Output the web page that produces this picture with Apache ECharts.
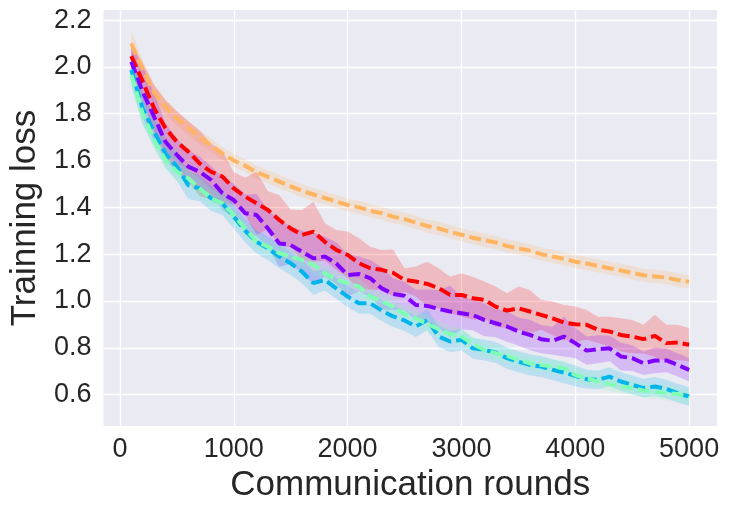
<!DOCTYPE html>
<html><head><meta charset="utf-8">
<script src="https://cdn.jsdelivr.net/npm/echarts@6/dist/echarts.min.js"></script>
<style>html,body{margin:0;padding:0;background:#fff}#c{width:729px;height:510px}</style>
</head><body><div id="c"></div>
<script>
const rounds = [100,200,300,400,500,600,700,800,900,1000,1100,1200,1300,1400,1500,1600,1700,1800,1900,2000,2100,2200,2300,2400,2500,2600,2700,2800,2900,3000,3100,3200,3300,3400,3500,3600,3700,3800,3900,4000,4100,4200,4300,4400,4500,4600,4700,4800,4900,5000];
const xTicks = [0,1000,2000,3000,4000,5000];
const yTicks = [0.6,0.8,1.0,1.2,1.4,1.6,1.8,2.0,2.2];

const orangeMean = [2.10,1.99,1.89,1.83,1.78,1.74,1.70,1.665,1.63,1.60,1.578,1.55,1.53,1.51,1.49,1.47,1.455,1.44,1.425,1.41,1.40,1.385,1.375,1.36,1.35,1.335,1.32,1.31,1.295,1.283,1.27,1.26,1.25,1.235,1.225,1.215,1.20,1.19,1.18,1.168,1.16,1.15,1.14,1.13,1.12,1.11,1.105,1.10,1.09,1.082];
const orangeStd = [0.055,0.04,0.035,0.032,0.03,0.03,0.03,0.028,0.028,0.028,0.028,0.028,0.028,0.028,0.028,0.028,0.028,0.028,0.028,0.028,0.028,0.028,0.028,0.028,0.028,0.028,0.028,0.028,0.028,0.028,0.028,0.028,0.028,0.028,0.028,0.028,0.028,0.028,0.028,0.028,0.028,0.028,0.028,0.028,0.028,0.028,0.028,0.028,0.028,0.028];

const redMean = [2.046,1.937,1.823,1.738,1.68,1.638,1.588,1.552,1.531,1.481,1.446,1.417,1.389,1.346,1.31,1.282,1.296,1.253,1.218,1.197,1.161,1.14,1.133,1.12,1.09,1.083,1.073,1.055,1.026,1.026,1.012,1.005,0.976,0.959,0.969,0.955,0.941,0.926,0.908,0.901,0.898,0.877,0.87,0.855,0.848,0.837,0.851,0.82,0.823,0.813];
const redStd = [0.06,0.08,0.10,0.12,0.13,0.13,0.14,0.12,0.11,0.07,0.08,0.135,0.08,0.107,0.08,0.107,0.128,0.08,0.085,0.10,0.107,0.092,0.085,0.10,0.05,0.064,0.095,0.085,0.078,0.092,0.092,0.078,0.086,0.074,0.093,0.092,0.064,0.072,0.075,0.075,0.064,0.056,0.063,0.071,0.071,0.061,0.09,0.078,0.075,0.071];

const purpleMean = [2.022,1.894,1.787,1.68,1.624,1.574,1.552,1.517,1.46,1.431,1.375,1.367,1.31,1.246,1.239,1.21,1.182,1.19,1.161,1.111,1.115,1.097,1.054,1.03,1.022,0.983,0.979,0.966,0.955,0.948,0.94,0.919,0.905,0.891,0.87,0.855,0.837,0.83,0.848,0.82,0.788,0.794,0.798,0.763,0.756,0.734,0.746,0.746,0.727,0.706];
const purpleStd = [0.07,0.11,0.10,0.08,0.07,0.07,0.065,0.06,0.07,0.07,0.08,0.09,0.08,0.10,0.08,0.09,0.11,0.085,0.09,0.09,0.075,0.078,0.09,0.067,0.06,0.065,0.07,0.08,0.11,0.07,0.065,0.07,0.06,0.065,0.06,0.065,0.06,0.06,0.085,0.065,0.06,0.06,0.055,0.06,0.055,0.05,0.055,0.05,0.05,0.05];

const cyanMean = [1.987,1.823,1.723,1.63,1.574,1.495,1.481,1.439,1.417,1.36,1.30,1.253,1.225,1.19,1.161,1.125,1.076,1.09,1.054,1.019,0.99,0.99,0.959,0.934,0.917,0.891,0.919,0.848,0.827,0.834,0.798,0.791,0.78,0.756,0.741,0.727,0.72,0.706,0.694,0.68,0.666,0.663,0.677,0.656,0.642,0.628,0.635,0.624,0.606,0.592];
const cyanStd = [0.07,0.07,0.065,0.06,0.06,0.06,0.055,0.055,0.05,0.05,0.05,0.05,0.05,0.05,0.05,0.05,0.05,0.045,0.045,0.045,0.045,0.045,0.045,0.045,0.045,0.045,0.045,0.045,0.045,0.045,0.045,0.045,0.045,0.045,0.045,0.045,0.045,0.045,0.045,0.045,0.04,0.04,0.04,0.04,0.04,0.04,0.04,0.04,0.04,0.04];

const greenMean = [1.965,1.80,1.688,1.602,1.552,1.524,1.481,1.439,1.417,1.367,1.31,1.253,1.232,1.204,1.19,1.175,1.154,1.118,1.093,1.076,1.061,1.019,1.0,0.975,0.945,0.925,0.902,0.879,0.859,0.848,0.817,0.791,0.777,0.766,0.749,0.734,0.727,0.72,0.713,0.684,0.67,0.656,0.645,0.635,0.628,0.618,0.612,0.606,0.603,0.585];
const greenStd = [0.045,0.045,0.04,0.04,0.04,0.04,0.04,0.04,0.035,0.035,0.035,0.035,0.035,0.035,0.035,0.035,0.035,0.035,0.035,0.035,0.035,0.035,0.035,0.035,0.035,0.035,0.035,0.035,0.035,0.035,0.03,0.03,0.03,0.03,0.03,0.03,0.03,0.03,0.03,0.03,0.03,0.03,0.03,0.03,0.03,0.03,0.03,0.03,0.03,0.03];

const seriesDefs = [
  {name:'orange', color:'#ffb462', mean:orangeMean, std:orangeStd},
  {name:'red', color:'#ff0000', mean:redMean, std:redStd},
  {name:'purple', color:'#8000ff', mean:purpleMean, std:purpleStd},
  {name:'cyan', color:'#00b5eb', mean:cyanMean, std:cyanStd},
  {name:'green', color:'#80ffb4', mean:greenMean, std:greenStd}
];

const series = [];
seriesDefs.forEach(function(s){
  const band = rounds.map(function(r,k){ return [r, s.mean[k]-s.std[k], s.mean[k]+s.std[k]]; });
  series.push({
    type:'custom', silent:true, z:1, clip:true,
    encode:{x:0, y:[1,2]},
    data: band,
    renderItem: function(params, api){
      if (params.dataIndex !== 0) return null;
      const pts = [];
      for (let k = 0; k < band.length; k++) pts.push(api.coord([band[k][0], band[k][2]]));
      for (let k = band.length - 1; k >= 0; k--) pts.push(api.coord([band[k][0], band[k][1]]));
      return {type:'polygon', shape:{points:pts}, style:{fill:s.color, opacity:0.2}};
    }
  });
});
seriesDefs.forEach(function(s){
  series.push({
    type:'line', name:s.name, symbol:'none', z:3,
    lineStyle:{color:s.color, width:4, type:[12,5], cap:'butt'},
    data: rounds.map(function(r,k){ return [r, s.mean[k]]; })
  });
});

const txt = '#262626';
const chart = echarts.init(document.getElementById('c'));
chart.setOption({
  animation:false,
  backgroundColor:'#ffffff',
  grid:{left:97, right:12, top:10, bottom:84, show:true, backgroundColor:'#eaeaf2', borderWidth:0},
  xAxis:{
    type:'value', min:-145, max:5245,
    name:'Communication rounds', nameLocation:'middle', nameGap:36,
    nameTextStyle:{fontSize:35, color:txt, fontFamily:'Liberation Sans'},
    axisLine:{show:false},
    axisTick:{show:false, customValues:xTicks},
    axisLabel:{customValues:xTicks, fontSize:27, color:txt, fontFamily:'Liberation Sans', margin:10,
      formatter:function(v){ return String(v); }},
    splitLine:{show:true, lineStyle:{color:'#ffffff', width:1.3}}
  },
  yAxis:{
    type:'value', min:0.466, max:2.243,
    name:'Trainning loss', nameLocation:'middle', nameGap:57, nameRotate:90,
    nameTextStyle:{fontSize:35, color:txt, fontFamily:'Liberation Sans'},
    axisLine:{show:false},
    axisTick:{show:false, customValues:yTicks},
    axisLabel:{customValues:yTicks, fontSize:27, color:txt, fontFamily:'Liberation Sans', margin:12,
      formatter:function(v){ return v.toFixed(1); }},
    splitLine:{show:true, lineStyle:{color:'#ffffff', width:1.3}}
  },
  series:series
});
</script>
</body></html>
